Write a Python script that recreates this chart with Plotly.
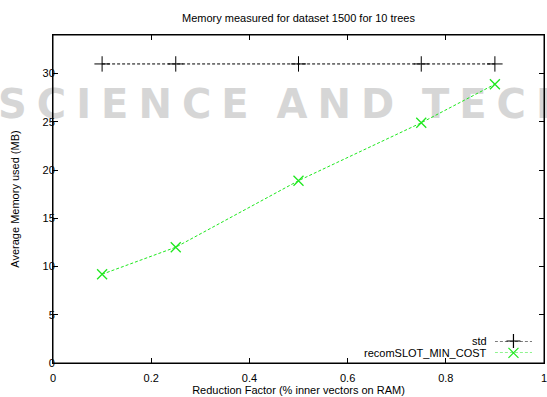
import plotly.graph_objects as go

# ---- data ----
x_vals = [0.1, 0.25, 0.5, 0.75, 0.9]
std_mem = [31, 31, 31, 31, 31]
recom_mem = [9.2, 12.0, 18.9, 24.9, 28.9]
series_names = ["std", "recomSLOT_MIN_COST"]
x_ticks = [0, 0.2, 0.4, 0.6, 0.8, 1]
x_tick_labels = ["0", "0.2", "0.4", "0.6", "0.8", "1"]
y_ticks = [0, 5, 10, 15, 20, 25, 30]
y_tick_labels = ["0", "5", "10", "15", "20", "25", "30"]

FONT = "Liberation Sans, Arial, Helvetica, sans-serif"
BLACK = "#000000"
GREEN = "#1ee81e"

W, H = 547, 397

fig = go.Figure()

fig.add_trace(go.Scatter(
    x=x_vals, y=std_mem, mode="lines+markers", name=series_names[0],
    line=dict(color=BLACK, width=1, dash="3px,2px"),
    marker=dict(symbol="cross-thin", size=11, line=dict(color=BLACK, width=1)),
    showlegend=False))
fig.add_trace(go.Scatter(
    x=x_vals, y=recom_mem, mode="lines+markers", name=series_names[1],
    line=dict(color=GREEN, width=1, dash="3px,2px"),
    marker=dict(symbol="x-thin", size=10, line=dict(color=GREEN, width=1.3)),
    showlegend=False))

# gnuplot-style key (text left, sample right), drawn in its own small 0..1 subplot
key_rows = [1.0, 0.0]
key_colors = [BLACK, GREEN]
key_symbols = ["cross-thin", "x-thin"]
for name, yy, col, sym in zip(series_names, key_rows, key_colors, key_symbols):
    fig.add_trace(go.Scatter(
        x=[0.0, 1.0], y=[yy, yy], xaxis="x2", yaxis="y2", mode="lines",
        line=dict(color=col, width=1, dash="3px,2px"), hoverinfo="skip",
        showlegend=False, cliponaxis=False))
    fig.add_trace(go.Scatter(
        x=[0.5], y=[yy], xaxis="x2", yaxis="y2", mode="markers",
        marker=dict(symbol=sym, size=10, line=dict(color=col, width=1.2)),
        hoverinfo="skip", showlegend=False, cliponaxis=False))
for name, yy in zip(series_names, [0.067, 0.031]):
    fig.add_annotation(x=0.888, y=yy, xref="paper", yref="paper", text=name,
                       showarrow=False, xanchor="right", yanchor="middle",
                       font=dict(family=FONT, size=11, color=BLACK))

# faint watermark behind the plot
sp = "\u2005"
gap = "\u00a0\u00a0"
wm_text = sp.join("SCIENCE") + gap + sp.join("AND") + gap + sp.join("TECHNOLOGY")
fig.add_shape(type="rect", xref="paper", yref="paper", x0=-0.118, x1=1.05, y0=0.74, y1=0.86,
              layer="below", line=dict(width=0), fillcolor="rgba(0,0,0,0)",
              label=dict(text="<b>" + wm_text + "</b>",
                         font=dict(family="DejaVu Sans", size=40, color="#d6d6d6"),
                         textposition="middle left", padding=0))

# plot frame (gnuplot border)
fig.add_shape(type="rect", xref="paper", yref="paper", x0=0, x1=1, y0=0, y1=1,
              layer="above", line=dict(color=BLACK, width=1), fillcolor="rgba(0,0,0,0)")

axis_common = dict(showline=True, linecolor=BLACK, linewidth=1, mirror="ticks",
                   ticks="inside", ticklen=5, tickcolor=BLACK, showgrid=False,
                   zeroline=False, automargin=False, ticklabeloverflow="allow",
                   tickfont=dict(family=FONT, size=11, color=BLACK))

fig.update_layout(
    width=W, height=H,
    margin=dict(l=53, r=3, t=35, b=34),
    paper_bgcolor="white", plot_bgcolor="rgba(0,0,0,0)",
    title=dict(text="Memory measured for dataset 1500 for 10 trees",
               x=(53 + 491 / 2) / W, xanchor="center", xref="container",
               y=1 - 18 / H, yanchor="middle", yref="container", automargin=False,
               font=dict(family=FONT, size=11, color=BLACK)),
    xaxis=dict(range=[0, 1], tickvals=x_ticks, ticktext=x_tick_labels, domain=[0, 1],
               title=dict(text="Reduction Factor (% inner vectors on RAM)",
                          font=dict(family=FONT, size=11, color=BLACK), standoff=2),
               ticklabelstandoff=5, **axis_common),
    yaxis=dict(range=[0, 34], tickvals=y_ticks, ticktext=y_tick_labels, domain=[0, 1],
               title=dict(text="Average Memory used (MB)",
                          font=dict(family=FONT, size=11, color=BLACK), standoff=20),
               ticklabelstandoff=-5, **axis_common),
    xaxis2=dict(domain=[0.900, 0.9756], anchor="y2", range=[0, 1], visible=False,
                fixedrange=True),
    yaxis2=dict(domain=[0.031, 0.067], anchor="x2", range=[0, 1], visible=False,
                fixedrange=True),
    showlegend=False,
)

fig.write_html("out.html",
               config={"displayModeBar": False},
               post_script="document.body.style.margin='0px';"
                           "document.body.style.overflow='hidden';"
                           "document.documentElement.style.overflow='hidden';")
